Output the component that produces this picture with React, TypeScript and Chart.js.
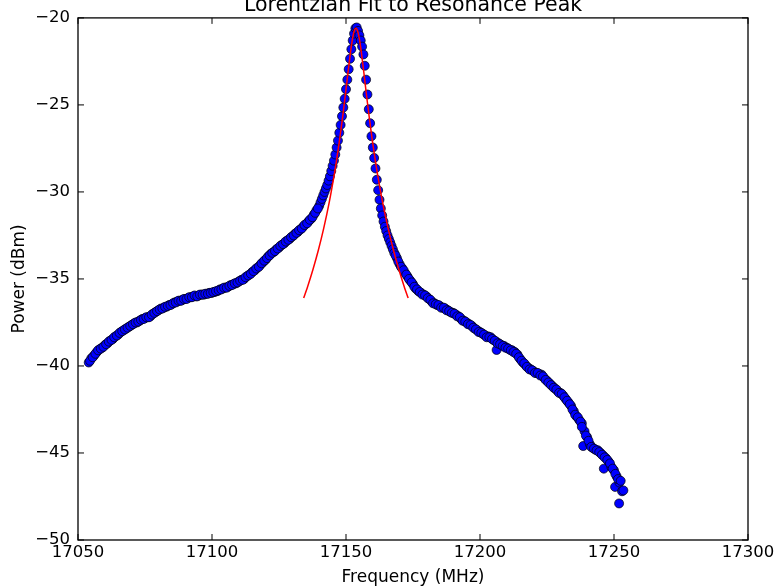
import React, { useEffect, useRef } from 'react';
import { Chart, registerables } from 'chart.js';

Chart.register(...registerables);

const chartTitle = 'Lorentzian Fit to Resonance Peak';
const xAxisLabel = 'Frequency (MHz)';
const yAxisLabel = 'Power (dBm)';

const xTicks = [17050, 17100, 17150, 17200, 17250, 17300];
const yTicks = [-50, -45, -40, -35, -30, -25, -20];

// Measured data (blue dots)
const freqMHz = [
  17054, 17055, 17056, 17057, 17058, 17059, 17060, 17061, 17062, 17063,
  17064, 17065, 17066, 17067, 17068, 17069, 17070, 17071, 17072, 17073,
  17074, 17075, 17076, 17077, 17078, 17079, 17080, 17081, 17082, 17083,
  17084, 17085, 17086, 17087, 17088, 17089, 17090, 17091, 17092, 17093,
  17094, 17095, 17096, 17097, 17098, 17099, 17100, 17101, 17102, 17103,
  17104, 17105, 17106, 17107, 17108, 17109, 17110, 17111, 17112, 17113,
  17114, 17115, 17116, 17117, 17118, 17119, 17120, 17121, 17122, 17123,
  17124, 17125, 17126, 17127, 17128, 17129, 17130, 17131, 17132, 17133,
  17134, 17135, 17136, 17137, 17138, 17139, 17140, 17140.5, 17141, 17141.5,
  17142, 17142.5, 17143, 17143.5, 17144, 17144.5, 17145, 17145.5, 17146, 17146.5,
  17147, 17147.5, 17148, 17148.5, 17149, 17149.5, 17150, 17150.5, 17151, 17151.5,
  17152, 17152.5, 17153, 17153.5, 17154, 17154.5, 17155, 17155.5, 17156, 17156.5,
  17157, 17157.5, 17158, 17158.5, 17159, 17159.5, 17160, 17160.5, 17161, 17161.5,
  17162, 17162.5, 17163, 17163.5, 17164, 17164.5, 17165, 17165.5, 17166, 17166.5,
  17167, 17167.5, 17168, 17169, 17170, 17171, 17172, 17173, 17174, 17175,
  17176, 17177, 17178, 17179, 17180, 17181, 17182, 17183, 17184, 17185,
  17186, 17187, 17188, 17189, 17190, 17191, 17192, 17193, 17194, 17195,
  17196, 17197, 17198, 17199, 17200, 17201, 17202, 17203, 17204, 17205,
  17206, 17206.2, 17207, 17208, 17209, 17210, 17211, 17212, 17213, 17214,
  17215, 17216, 17217, 17218, 17219, 17220, 17221, 17222, 17223, 17224,
  17225, 17226, 17227, 17228, 17229, 17230, 17231, 17232, 17233, 17234,
  17235, 17236, 17237, 17238, 17238.5, 17239, 17240, 17241, 17242, 17243,
  17244, 17245, 17246, 17246.2, 17247, 17248, 17249, 17250, 17250.4, 17251,
  17251.9, 17252, 17253,
  // half-step samples
  17054.5, 17055.5, 17056.5, 17057.5, 17058.5, 17059.5, 17060.5, 17061.5, 17062.5, 17063.5,
  17064.5, 17065.5, 17066.5, 17067.5, 17068.5, 17069.5, 17070.5, 17071.5, 17072.5, 17073.5,
  17074.5, 17075.5, 17076.5, 17077.5, 17078.5, 17079.5, 17080.5, 17081.5, 17082.5, 17083.5,
  17084.5, 17085.5, 17086.5, 17087.5, 17088.5, 17089.5, 17090.5, 17091.5, 17092.5, 17093.5,
  17094.5, 17095.5, 17096.5, 17097.5, 17098.5, 17099.5, 17100.5, 17101.5, 17102.5, 17103.5,
  17104.5, 17105.5, 17106.5, 17107.5, 17108.5, 17109.5, 17110.5, 17111.5, 17112.5, 17113.5,
  17114.5, 17115.5, 17116.5, 17117.5, 17118.5, 17119.5, 17120.5, 17121.5, 17122.5, 17123.5,
  17124.5, 17125.5, 17126.5, 17127.5, 17128.5, 17129.5, 17130.5, 17131.5, 17132.5, 17133.5,
  17134.5, 17135.5, 17136.5, 17137.5, 17138.5, 17139.5,
  17168.5, 17169.5, 17170.5, 17171.5, 17172.5, 17173.5, 17174.5, 17175.5, 17176.5, 17177.5,
  17178.5, 17179.5, 17180.5, 17181.5, 17182.5, 17183.5, 17184.5, 17185.5, 17186.5, 17187.5,
  17188.5, 17189.5, 17190.5, 17191.5, 17192.5, 17193.5, 17194.5, 17195.5, 17196.5, 17197.5,
  17198.5, 17199.5, 17200.5, 17201.5, 17202.5, 17203.5, 17204.5, 17205.5, 17206.5, 17207.5,
  17208.5, 17209.5, 17210.5, 17211.5, 17212.5, 17213.5, 17214.5, 17215.5, 17216.5, 17217.5,
  17218.5, 17219.5, 17220.5, 17221.5, 17222.5, 17223.5, 17224.5, 17225.5, 17226.5, 17227.5,
  17228.5, 17229.5, 17230.5, 17231.5, 17232.5, 17233.5, 17234.5, 17235.5, 17236.5, 17237.5,
  17238, 17239.5, 17240.5, 17241.5, 17242.5, 17243.5, 17244.5, 17245.5, 17246.5, 17247.5,
  17248.5, 17249.5, 17250.5, 17251.5, 17252.5, 17253.5,
];

const powerDbm = [
  -39.8, -39.55, -39.4, -39.2, -39.05, -38.95, -38.8, -38.7, -38.55, -38.45,
  -38.3, -38.2, -38.05, -37.95, -37.85, -37.75, -37.65, -37.55, -37.5, -37.4,
  -37.3, -37.25, -37.2, -37.15, -37.0, -36.9, -36.8, -36.7, -36.65, -36.6,
  -36.5, -36.45, -36.35, -36.3, -36.25, -36.2, -36.15, -36.1, -36.05, -36.0,
  -36.0, -35.95, -35.9, -35.9, -35.85, -35.8, -35.8, -35.75, -35.7, -35.6,
  -35.55, -35.5, -35.45, -35.35, -35.3, -35.25, -35.15, -35.05, -35.0, -34.85,
  -34.75, -34.6, -34.5, -34.35, -34.2, -34.05, -33.9, -33.7, -33.55, -33.45,
  -33.3, -33.2, -33.05, -32.95, -32.8, -32.7, -32.55, -32.4, -32.3, -32.15,
  -32.0, -31.85, -31.7, -31.55, -31.3, -31.05, -30.8, -30.6, -30.4, -30.2,
  -30.0, -29.8, -29.6, -29.35, -29.1, -28.8, -28.5, -28.2, -27.85, -27.45,
  -27.05, -26.6, -26.15, -25.65, -25.15, -24.65, -24.1, -23.55, -22.95, -22.35,
  -21.8, -21.3, -20.9, -20.6, -20.55, -20.75, -21.0, -21.3, -21.65, -22.1,
  -22.75, -23.55, -24.4, -25.25, -26.05, -26.8, -27.45, -28.05, -28.65, -29.3,
  -29.9, -30.45, -30.95, -31.35, -31.7, -32.0, -32.25, -32.5, -32.7, -32.9,
  -33.1, -33.3, -33.5, -33.8, -34.15, -34.4, -34.65, -34.87, -35.1, -35.3,
  -35.55, -35.7, -35.8, -35.9, -36.0, -36.15, -36.3, -36.4, -36.5, -36.55,
  -36.65, -36.7, -36.8, -36.9, -36.95, -37.05, -37.15, -37.3, -37.4, -37.5,
  -37.6, -37.7, -37.85, -37.95, -38.05, -38.15, -38.25, -38.3, -38.35, -38.5,
  -38.6, -39.08, -38.7, -38.8, -38.85, -38.95, -39.05, -39.1, -39.2, -39.35,
  -39.6, -39.8, -39.95, -40.1, -40.2, -40.3, -40.4, -40.45, -40.5, -40.7,
  -40.85, -41.0, -41.15, -41.3, -41.45, -41.55, -41.7, -41.9, -42.1, -42.3,
  -42.6, -42.9, -43.1, -43.3, -44.6, -43.75, -44.1, -44.5, -44.7, -44.8,
  -44.85, -45.0, -45.15, -45.9, -45.3, -45.5, -45.8, -46.0, -46.95, -46.35,
  -47.9, -46.7, -47.2,
  // half-step samples
  -39.7, -39.5, -39.3, -39.1, -39.0, -38.9, -38.75, -38.6, -38.5, -38.35,
  -38.25, -38.1, -38.0, -37.9, -37.8, -37.7, -37.6, -37.5, -37.45, -37.35,
  -37.3, -37.2, -37.2, -37.05, -36.95, -36.85, -36.75, -36.7, -36.6, -36.55,
  -36.5, -36.4, -36.35, -36.25, -36.25, -36.15, -36.15, -36.05, -36.05, -35.95,
  -36.0, -35.9, -35.9, -35.85, -35.85, -35.8, -35.75, -35.7, -35.65, -35.6,
  -35.5, -35.5, -35.4, -35.35, -35.25, -35.2, -35.1, -35.05, -34.9, -34.8,
  -34.7, -34.55, -34.4, -34.3, -34.1, -33.95, -33.8, -33.65, -33.5, -33.4,
  -33.25, -33.1, -33.0, -32.85, -32.75, -32.6, -32.5, -32.35, -32.2, -32.1,
  -31.9, -31.8, -31.6, -31.45, -31.2, -30.95,
  -33.65, -34.0, -34.3, -34.5, -34.75, -35.0, -35.2, -35.45, -35.6, -35.75,
  -35.9, -35.95, -36.1, -36.2, -36.4, -36.45, -36.5, -36.65, -36.65, -36.8,
  -36.85, -36.95, -37.0, -37.15, -37.2, -37.4, -37.45, -37.6, -37.65, -37.8,
  -37.9, -38.05, -38.1, -38.2, -38.35, -38.35, -38.45, -38.55, -38.7, -38.75,
  -38.85, -38.95, -39.0, -39.1, -39.2, -39.3, -39.5, -39.7, -39.85, -40.05,
  -40.2, -40.25, -40.4, -40.4, -40.55, -40.6, -40.8, -40.95, -41.1, -41.25,
  -41.35, -41.55, -41.6, -41.8, -42.0, -42.2, -42.5, -42.8, -42.95, -43.2,
  -43.5, -44.0, -44.3, -44.65, -44.75, -44.85, -44.95, -45.1, -45.25, -45.4,
  -45.6, -45.9, -46.2, -46.5, -46.6, -47.15,
];

// Lorentzian fit (red line)
const fitFreqMHz = [
  17134.2, 17135.7, 17137.7, 17139.7, 17141.7, 17143.7, 17145.7, 17146.7, 17147.7, 17148.7,
  17149.7, 17150.7, 17151.7, 17152.2, 17152.7, 17153.2, 17153.7, 17154.2, 17154.7, 17155.2,
  17155.7, 17156.7, 17157.7, 17158.7, 17159.7, 17160.7, 17161.7, 17163.7, 17165.7, 17167.7,
  17169.7, 17171.7, 17173.2,
];
const fitPowerDbm = [
  -36.1, -35.43, -34.44, -33.34, -32.08, -30.63, -28.93, -27.96, -26.9, -25.74,
  -24.5, -23.19, -21.95, -21.41, -20.98, -20.7, -20.6, -20.7, -20.98, -21.41,
  -21.95, -23.19, -24.5, -25.74, -26.9, -27.96, -28.93, -30.63, -32.08, -33.34,
  -34.44, -35.43, -36.1,
];

const FONT = 'DejaVu Sans';
const minus = (v: number | string) => String(v).replace('-', '\u2212');

const mplPlugin = {
  id: 'mplFrame',
  afterDatasetsDraw(chart: any) {
    const { ctx, chartArea: a, scales } = chart;
    ctx.save();
    ctx.strokeStyle = '#000';
    ctx.lineWidth = 1;
    const tl = 6;
    ctx.beginPath();
    xTicks.forEach((v) => {
      const x = scales.x.getPixelForValue(v);
      ctx.moveTo(x, a.bottom);
      ctx.lineTo(x, a.bottom - tl);
      ctx.moveTo(x, a.top);
      ctx.lineTo(x, a.top + tl);
    });
    yTicks.forEach((v) => {
      const y = scales.y.getPixelForValue(v);
      ctx.moveTo(a.left, y);
      ctx.lineTo(a.left + tl, y);
      ctx.moveTo(a.right, y);
      ctx.lineTo(a.right - tl, y);
    });
    ctx.stroke();
    ctx.lineWidth = 1.3;
    ctx.strokeRect(a.left, a.top, a.right - a.left, a.bottom - a.top);
    ctx.restore();
  },
  afterDraw(chart: any) {
    const { ctx, chartArea: a } = chart;
    ctx.save();
    ctx.fillStyle = '#000';
    ctx.font = `20.5px "${FONT}"`;
    ctx.textAlign = 'center';
    ctx.textBaseline = 'alphabetic';
    ctx.fillText(chartTitle, (a.left + a.right) / 2, 11);
    ctx.restore();
  },
};

export default function App() {
  const ref = useRef<HTMLCanvasElement | null>(null);

  useEffect(() => {
    if (!ref.current) return;
    const scatterData = freqMHz.map((f, i) => ({ x: f, y: powerDbm[i] }));
    const fitData = fitFreqMHz.map((f, i) => ({ x: f, y: fitPowerDbm[i] }));
    const chart = new Chart(ref.current, {
      type: 'scatter',
      data: {
        datasets: [
          {
            type: 'line',
            label: 'Fit',
            data: fitData,
            borderColor: '#ff0000',
            borderWidth: 1.5,
            pointRadius: 0,
            fill: false,
            tension: 0.3,
            order: 0,
          } as any,
          {
            label: 'Data',
            data: scatterData,
            backgroundColor: '#0000ff',
            borderColor: '#000000',
            borderWidth: 0.7,
            pointRadius: 4.5,
            order: 1,
          },
        ],
      },
      options: {
        animation: false,
        responsive: false,
        devicePixelRatio: 1,
        layout: { padding: { left: 0, right: 31, top: 17, bottom: 0 } },
        plugins: {
          legend: { display: false },
          tooltip: { enabled: false },
          title: { display: false },
        },
        scales: {
          x: {
            type: 'linear',
            min: 17050,
            max: 17300,
            afterBuildTicks: (s: any) => {
              s.ticks = xTicks.map((v) => ({ value: v }));
            },
            afterFit: (s: any) => {
              s.height = 48;
            },
            grid: { display: false, drawTicks: false },
            border: { display: false },
            ticks: {
              color: '#000',
              font: { family: FONT, size: 16.5 },
              padding: 3,
              maxRotation: 0,
              autoSkip: false,
              callback: (v: any) => minus(v),
            },
            title: {
              display: true,
              text: xAxisLabel,
              color: '#000',
              font: { family: FONT, size: 17 },
              padding: { top: 0, bottom: 0 },
            },
          },
          y: {
            type: 'linear',
            min: -50,
            max: -20,
            afterBuildTicks: (s: any) => {
              s.ticks = yTicks.map((v) => ({ value: v }));
            },
            afterFit: (s: any) => {
              s.width = 78;
            },
            grid: { display: false, drawTicks: false },
            border: { display: false },
            ticks: {
              color: '#000',
              font: { family: FONT, size: 16.5 },
              padding: 8,
              autoSkip: false,
              callback: (v: any) => minus(v),
            },
            title: {
              display: true,
              text: yAxisLabel,
              color: '#000',
              font: { family: FONT, size: 17 },
              padding: { top: 9, bottom: 0 },
            },
          },
        },
      },
      plugins: [mplPlugin],
    });
    return () => chart.destroy();
  }, []);

  return (
    <div style={{ position: 'absolute', left: 0, top: 0, width: 779, height: 588, background: '#fff' }}>
      <canvas ref={ref} width={779} height={588} />
    </div>
  );
}
